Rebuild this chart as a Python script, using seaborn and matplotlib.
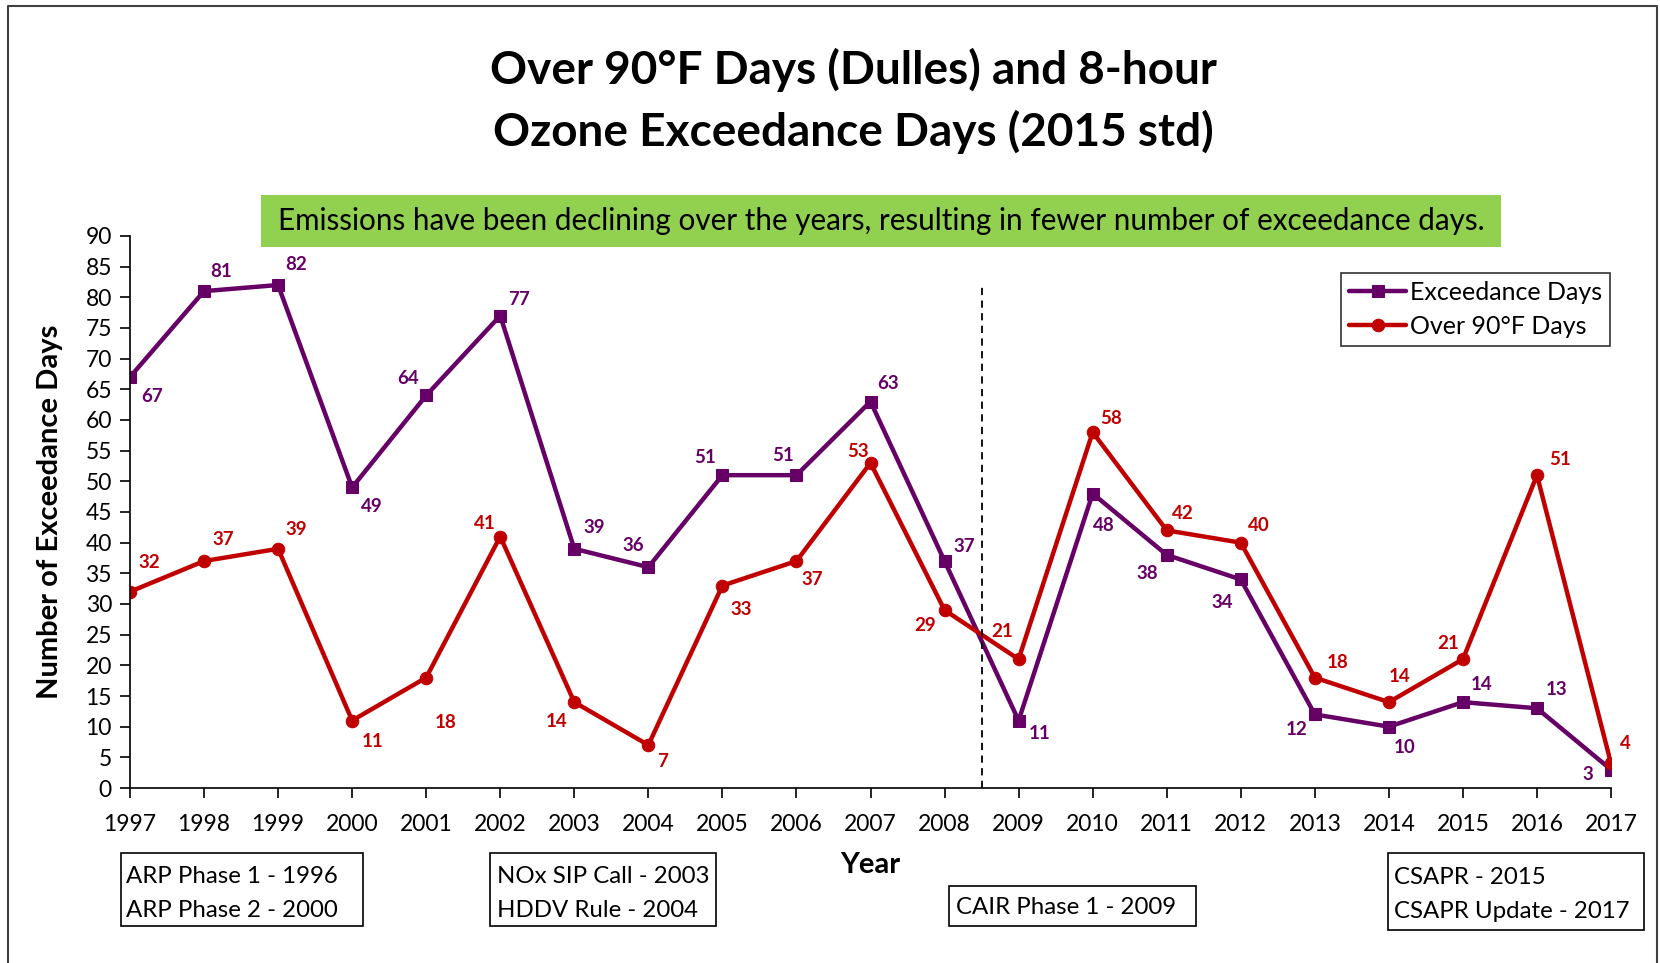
import pandas as pd
import matplotlib.pyplot as plt
import seaborn as sns
from matplotlib.lines import Line2D
from matplotlib.patches import Rectangle

# chart data
years = list(range(1997, 2018))
exceedance_days = [67, 81, 82, 49, 64, 77, 39, 36, 51, 51, 63, 37, 11, 48, 38, 34, 12, 10, 14, 13, 3]
over90_days = [32, 37, 39, 11, 18, 41, 14, 7, 33, 37, 53, 29, 21, 58, 42, 40, 18, 14, 21, 51, 4]
y_ticks = list(range(0, 95, 5))
rule_notes = [["ARP Phase 1 - 1996", "ARP Phase 2 - 2000"],
              ["NOx SIP Call - 2003", "HDDV Rule - 2004"],
              ["CAIR Phase 1 - 2009"],
              ["CSAPR - 2015", "CSAPR Update - 2017"]]

# label offsets (pixels) so the numbers sit beside the markers
exc_offsets = [(22, -19), (17, 20), (18, 21), (20, -19), (-18, 17), (19, 16), (20, 21),
               (-15, 22), (-17, 18), (-13, 20), (18, 18), (20, 15), (21, -13), (11, -32),
               (-19, -19), (-19, -23), (-18, -15), (16, -21), (19, 18), (20, 19), (-23, -5)]
hot_offsets = [(19, 29), (19, 22), (18, 19), (20, -21), (19, -45), (-15, 13), (-18, -19),
               (14, -16), (19, -24), (16, -18), (-13, 11), (-19, -15), (-16, 28), (18, 14),
               (16, 17), (18, 17), (23, 15), (11, 26), (-15, 16), (23, 16), (14, 20)]

PURPLE = '#660066'
RED = '#C00000'
W, H = 1660, 963

df = pd.DataFrame({'Year': years, 'Exceedance Days': exceedance_days, 'Over 90°F Days': over90_days})

sns.set_style('white')
plt.rcParams['font.family'] = ['Lato', 'DejaVu Sans']
plt.rcParams['text.color'] = 'black'
plt.rcParams['axes.labelcolor'] = 'black'
plt.rcParams['xtick.color'] = 'black'
plt.rcParams['ytick.color'] = 'black'

fig = plt.figure(figsize=(16.6, 9.63), dpi=100)
ax = fig.add_axes([0.0783, 0.1817, 0.8922, 0.5733])

sns.lineplot(x='Year', y='Exceedance Days', data=df, ax=ax, color=PURPLE, linewidth=3.2,
             marker='s', markersize=9, markeredgecolor=PURPLE, label='Exceedance Days')
sns.lineplot(x='Year', y='Over 90°F Days', data=df, ax=ax, color=RED, linewidth=3.2,
             marker='o', markersize=9, markeredgecolor=RED, label='Over 90°F Days')

# data labels
for x, v, off in zip(years, exceedance_days, exc_offsets):
    ax.annotate(str(v), (x, v), xytext=off, textcoords='offset pixels', ha='center', va='center',
                fontsize=13.5, fontweight='bold', color=PURPLE)
for x, v, off in zip(years, over90_days, hot_offsets):
    ax.annotate(str(v), (x, v), xytext=off, textcoords='offset pixels', ha='center', va='center',
                fontsize=13.5, fontweight='bold', color=RED)

# separator between 2008 and 2009
ax.plot([2008.5, 2008.5], [0, 82], color='black', linestyle=(0, (4, 3)), linewidth=1.3)

ax.set_xlim(1997, 2017)
ax.set_ylim(0, 90)
ax.set_xticks(years)
ax.set_yticks(y_ticks)
ax.tick_params(axis='both', direction='out', length=7, width=1.2, labelsize=16.5,
               left=True, bottom=True)
ax.tick_params(axis='x', pad=12)
ax.tick_params(axis='y', pad=6)
for s in ['top', 'right']:
    ax.spines[s].set_visible(False)
for s in ['left', 'bottom']:
    ax.spines[s].set_color('black')
    ax.spines[s].set_linewidth(1.2)
ax.set_xlabel('Year', fontsize=21, fontweight='bold', labelpad=12)
ax.set_ylabel('Number of Exceedance Days', fontsize=21, fontweight='bold', labelpad=16)

leg = ax.legend(loc='upper right', bbox_to_anchor=(1.0075, 0.955), fontsize=18, frameon=True,
                fancybox=False, edgecolor='black', handlelength=2.3, handletextpad=0.15,
                borderpad=0.3, labelspacing=0.45)
leg.get_frame().set_linewidth(1.2)

# titles
fig.text(0.514, 0.927, 'Over 90°F Days (Dulles) and 8-hour', ha='center', va='center',
         fontsize=33, fontweight='bold')
fig.text(0.514, 0.863, 'Ozone Exceedance Days (2015 std)', ha='center', va='center',
         fontsize=33, fontweight='bold')
fig.add_artist(Rectangle((261 / W, 1 - 247 / H), (1501 - 261) / W, (247 - 195) / H,
                         transform=fig.transFigure, facecolor='#92D050', edgecolor='none'))
fig.text(881 / W, 1 - 221 / H,
         'Emissions have been declining over the years, resulting in fewer number of exceedance days.',
         ha='center', va='center', fontsize=21.3)

# regulation notes: box (left, top, right, bottom) in pixels, text left and line centres
note_boxes = [(121, 853, 363, 926), (490, 853, 716, 926), (949, 886, 1196, 926), (1388, 853, 1644, 930)]
note_lines = [(126, [876, 910]), (497, [876, 910]), (956, [907]), (1394, [877, 911])]
for lines, (l, t, r, b), (tx, ys) in zip(rule_notes, note_boxes, note_lines):
    fig.add_artist(Rectangle((l / W, 1 - b / H), (r - l) / W, (b - t) / H, transform=fig.transFigure,
                             facecolor='white', edgecolor='black', linewidth=1.2))
    for line, y in zip(lines, ys):
        fig.text(tx / W, 1 - y / H, line, ha='left', va='center', fontsize=17.3)

# outer chart frame
fig.add_artist(Line2D([0.005, 0.005, 0.998, 0.998], [0.0, 0.994, 0.994, 0.0],
                      transform=fig.transFigure, color='#404040', linewidth=1.5))

plt.savefig('out.png', dpi=100)
